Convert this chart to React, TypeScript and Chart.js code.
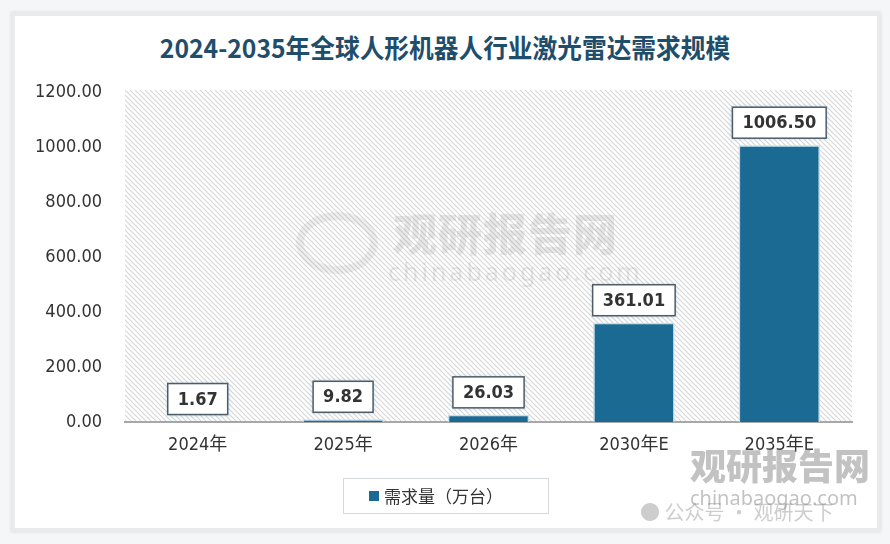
import React, { useEffect, useRef } from "react";
import { Chart, registerables } from "chart.js";

Chart.register(...registerables);

const categories = ["2024年", "2025年", "2026年", "2030年E", "2035年E"];
const demand = [1.67, 9.82, 26.03, 361.01, 1006.5];
const seriesName = "需求量（万台）";
const titleText = "2024-2035年全球人形机器人行业激光雷达需求规模";
const yMin = 0;
const yMax = 1200;
const yStep = 200;

const BAR = "#1b6a93";
const NUM_FONT = "'Liberation Sans Narrow', 'DejaVu Sans Condensed', 'Noto Sans CJK SC', sans-serif";
const CJK_FONT = "'Noto Sans CJK SC', 'Liberation Sans Narrow', sans-serif";

function makeHatch(): CanvasPattern | string {
  const c = document.createElement("canvas");
  const s = 5;
  c.width = s;
  c.height = s;
  const g = c.getContext("2d");
  if (!g) return "#fff";
  g.fillStyle = "#ffffff";
  g.fillRect(0, 0, s, s);
  g.strokeStyle = "#d6d6d6";
  g.lineWidth = 1.1;
  g.beginPath();
  g.moveTo(-1, -1);
  g.lineTo(s + 1, s + 1);
  g.moveTo(-1, s - 1);
  g.lineTo(1, s + 1);
  g.moveTo(s - 1, -1);
  g.lineTo(s + 1, 1);
  g.stroke();
  const p = g.createPattern(c, "repeat");
  return p || "#fff";
}

const hatchPlugin = {
  id: "hatchBg",
  beforeDraw(chart: any) {
    const { ctx, chartArea } = chart;
    ctx.save();
    ctx.fillStyle = makeHatch();
    ctx.fillRect(chartArea.left, chartArea.top - 2, chartArea.right - chartArea.left, chartArea.bottom - chartArea.top + 2);
    ctx.restore();
  },
};

const labelPlugin = {
  id: "boxLabels",
  afterDatasetsDraw(chart: any) {
    const { ctx } = chart;
    const meta = chart.getDatasetMeta(0);
    const data = chart.data.datasets[0].data as number[];
    ctx.save();
    ctx.font = `bold 18px ${NUM_FONT}`;
    meta.data.forEach((bar: any, i: number) => {
      const txt = data[i].toFixed(2);
      const tw = ctx.measureText(txt).width;
      const w = tw + 20;
      const h = 31;
      const x = bar.x - w / 2;
      const y = bar.y - 7 - h;
      ctx.shadowColor = "rgba(120,180,215,0.6)";
      ctx.shadowBlur = 4;
      ctx.fillStyle = "#ffffff";
      ctx.fillRect(x, y, w, h);
      ctx.shadowBlur = 0;
      ctx.strokeStyle = "#4d5c66";
      ctx.lineWidth = 1.5;
      ctx.strokeRect(x, y, w, h);
      ctx.fillStyle = "#333333";
      ctx.textAlign = "center";
      ctx.textBaseline = "middle";
      ctx.fillText(txt, bar.x, y + h / 2 + 1);
    });
    ctx.restore();
  },
};

const legendPlugin = {
  id: "boxLegend",
  afterDraw(chart: any) {
    const { ctx, chartArea } = chart;
    const ds = chart.data.datasets[0];
    const cx = (chartArea.left + chartArea.right) / 2 - 43;
    const top = chartArea.bottom + 56;
    const w = 205;
    const h = 35;
    const x = cx - w / 2;
    ctx.save();
    ctx.fillStyle = "#ffffff";
    ctx.fillRect(x, top, w, h);
    ctx.strokeStyle = "#d6d9dc";
    ctx.lineWidth = 1;
    ctx.strokeRect(x + 0.5, top + 0.5, w, h);
    ctx.fillStyle = ds.backgroundColor;
    ctx.fillRect(x + 26, top + 13, 10, 10);
    ctx.font = `17px ${CJK_FONT}`;
    ctx.fillStyle = "#333333";
    ctx.textAlign = "left";
    ctx.textBaseline = "middle";
    ctx.fillText(ds.label, x + 41, top + h / 2 + 1);
    ctx.restore();
  },
};

export default function App() {
  const ref = useRef<HTMLCanvasElement | null>(null);

  useEffect(() => {
    document.body.style.margin = "0";
    const canvas = ref.current;
    if (!canvas) return;
    const chart = new Chart(canvas, {
      type: "bar",
      data: {
        labels: categories,
        datasets: [
          {
            label: seriesName,
            data: demand,
            backgroundColor: BAR,
            borderColor: "rgba(190,222,238,0.95)",
            borderWidth: 1.5,
            barPercentage: 0.56,
            categoryPercentage: 1,
          },
        ],
      },
      options: {
        animation: false,
        responsive: false,
        maintainAspectRatio: false,
        devicePixelRatio: 1,
        layout: { padding: { top: 92, right: 38, bottom: 82, left: 0 } },
        plugins: {
          legend: { display: false },
          title: { display: false },
          tooltip: { enabled: false },
        },
        scales: {
          x: {
            grid: { display: false, drawTicks: false },
            border: { display: true, color: "#a8a8a8", width: 2 },
            ticks: {
              color: "#333333",
              font: { size: 18, family: NUM_FONT },
              padding: 13,
            },
            afterFit(scale: any) {
              scale.height = 40;
            },
          },
          y: {
            min: yMin,
            max: yMax,
            grid: { display: false, drawTicks: false },
            border: { display: false },
            ticks: {
              stepSize: yStep,
              color: "#333333",
              font: { size: 18, family: NUM_FONT },
              padding: 23,
              callback: (v: any) => Number(v).toFixed(2),
            },
            afterFit(scale: any) {
              scale.width = 125;
            },
          },
        },
      },
      plugins: [hatchPlugin, labelPlugin, legendPlugin],
    });
    return () => chart.destroy();
  }, []);

  return (
    <div style={{ position: "relative", width: 890, height: 544, background: "#f5f6f7", overflow: "hidden" }}>
      <div
        style={{
          position: "absolute",
          left: 11,
          top: 12,
          width: 862,
          height: 512,
          background: "#ffffff",
          border: "4px solid #e8eaec",
          boxShadow: "0 0 3px rgba(0,0,0,0.12)",
        }}
      />
      <div
        style={{
          position: "absolute",
          left: 0,
          top: 28,
          width: 890,
          textAlign: "center",
          fontFamily: CJK_FONT,
          fontWeight: 700,
          fontSize: 26,
          color: "#1f4e6c",
          transform: "scaleX(0.95)",
          whiteSpace: "nowrap",
        }}
      >
        {titleText}
      </div>
      <canvas ref={ref} width={890} height={544} style={{ position: "absolute", left: 0, top: 0, width: 890, height: 544 }} />
      <div style={{ position: "absolute", left: 393, top: 200, pointerEvents: "none", fontFamily: CJK_FONT, fontWeight: 900, fontSize: 44, color: "rgba(140,140,140,0.2)", letterSpacing: 1 }}>
        观研报告网
      </div>
      <div style={{ position: "absolute", left: 388, top: 254, pointerEvents: "none", fontFamily: "'Noto Sans', sans-serif", fontSize: 25, color: "rgba(140,140,140,0.2)", letterSpacing: 3 }}>
        chinabaogao.com
      </div>
      <div style={{ position: "absolute", left: 296, top: 212, width: 66, height: 46, pointerEvents: "none", borderRadius: "50%", border: "8px solid rgba(140,140,140,0.14)" }} />
      <div style={{ position: "absolute", left: 690, top: 438, pointerEvents: "none", fontFamily: CJK_FONT, fontWeight: 900, fontSize: 36, color: "rgba(120,120,120,0.45)" }}>
        观研报告网
      </div>
      <div style={{ position: "absolute", left: 690, top: 484, pointerEvents: "none", fontFamily: "'Noto Sans', sans-serif", fontSize: 20, color: "rgba(120,120,120,0.45)" }}>
        chinabaogao.com
      </div>
      <div style={{ position: "absolute", left: 640, top: 497, pointerEvents: "none", fontFamily: CJK_FONT, fontSize: 20, color: "rgba(130,130,130,0.4)" }}>
        ● 公众号 · 观研天下
      </div>
    </div>
  );
}
